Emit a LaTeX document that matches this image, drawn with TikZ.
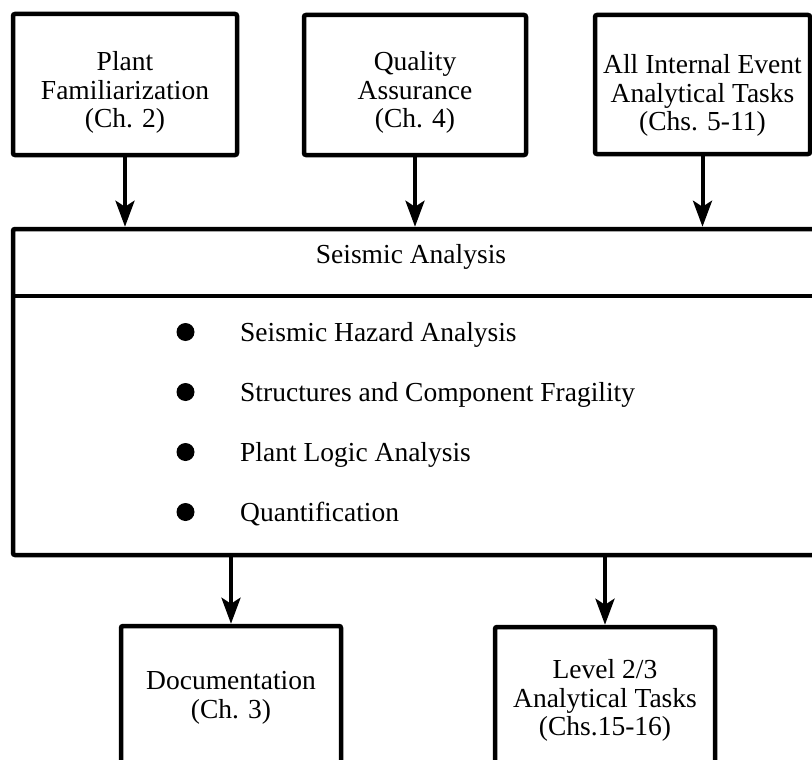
\documentclass[tikz,border=0pt]{standalone}
\usepackage{fontspec}
\setmainfont{Liberation Serif}
\usetikzlibrary{arrows.meta,calc}
\begin{document}
\begin{tikzpicture}[x=1pt,y=-1pt,
  box/.style={draw, line width=4.5pt, rounded corners=2pt, inner sep=0pt},
  lbl/.style={align=center, font=\fontsize{27.5}{28.5}\selectfont, inner sep=0pt},
  item/.style={anchor=base west, font=\fontsize{27.5}{28.5}\selectfont, inner sep=0pt},
  dot/.style={circle, fill, inner sep=0pt, minimum size=18pt},
  arr/.style={line width=4pt, -{Stealth[length=26pt,width=19pt,inset=6pt]}}]
\useasboundingbox (0,0) rectangle (812,760);
\clip (0,0) rectangle (812,760);

% input tasks
\node[box, minimum width=224pt, minimum height=141pt] (pf) at (125,84.5) {};
\node[lbl] (pf-t) at (125,92.5) {Plant\\Familiarization\\(Ch. 2)};
\node[box, minimum width=222pt, minimum height=140pt] (qa) at (415,85) {};
\node[lbl] (qa-t) at (415,92.5) {Quality\\Assurance\\(Ch. 4)};
\node[box, minimum width=215pt, minimum height=139pt] (ie) at (702.5,84.5) {};
\node[lbl] (ie-t) at (702.5,95.5) {All Internal Event\\Analytical Tasks\\(Chs. 5-11)};

% seismic analysis block
\node[box, minimum width=802pt, minimum height=326pt] (sa) at (414,392) {};
\draw[line width=4.5pt] ($(sa.north west)+(2.25,69)$) coordinate (hl) -- ($(sa.north east)+(-2.25,69)$) coordinate (hr);
\node[lbl, anchor=base] (sa-t) at (411,263) {Seismic Analysis};

\foreach \n/\y/\t in {1/332/Seismic Hazard Analysis,
                      2/392/Structures and Component Fragility,
                      3/452/Plant Logic Analysis,
                      4/512/Quantification}{
  \node[dot] (b\n) at (185.5,\y) {};
  \node[item] (i\n) at (240,\y+9) {\t};
}

% output tasks
\node[box, minimum width=220pt, minimum height=154pt] (doc) at (231,703) {};
\node[lbl] (doc-t) at (231,698) {Documentation\\(Ch. 3)};
\node[box, minimum width=220pt, minimum height=154pt] (lv) at (605,704) {};
\node[lbl] (lv-t) at (605,700.5) {Level 2/3\\Analytical Tasks\\(Chs.15-16)};

% connectors
\draw[arr] (pf.south) -- (pf.south |- sa.north);
\draw[arr] (qa.south) -- (qa.south |- sa.north);
\draw[arr] (ie.south) -- (ie.south |- sa.north);
\draw[arr] (sa.south -| doc.north) -- (doc.north);
\draw[arr] (sa.south -| lv.north) -- (lv.north);
\end{tikzpicture}
\end{document}
